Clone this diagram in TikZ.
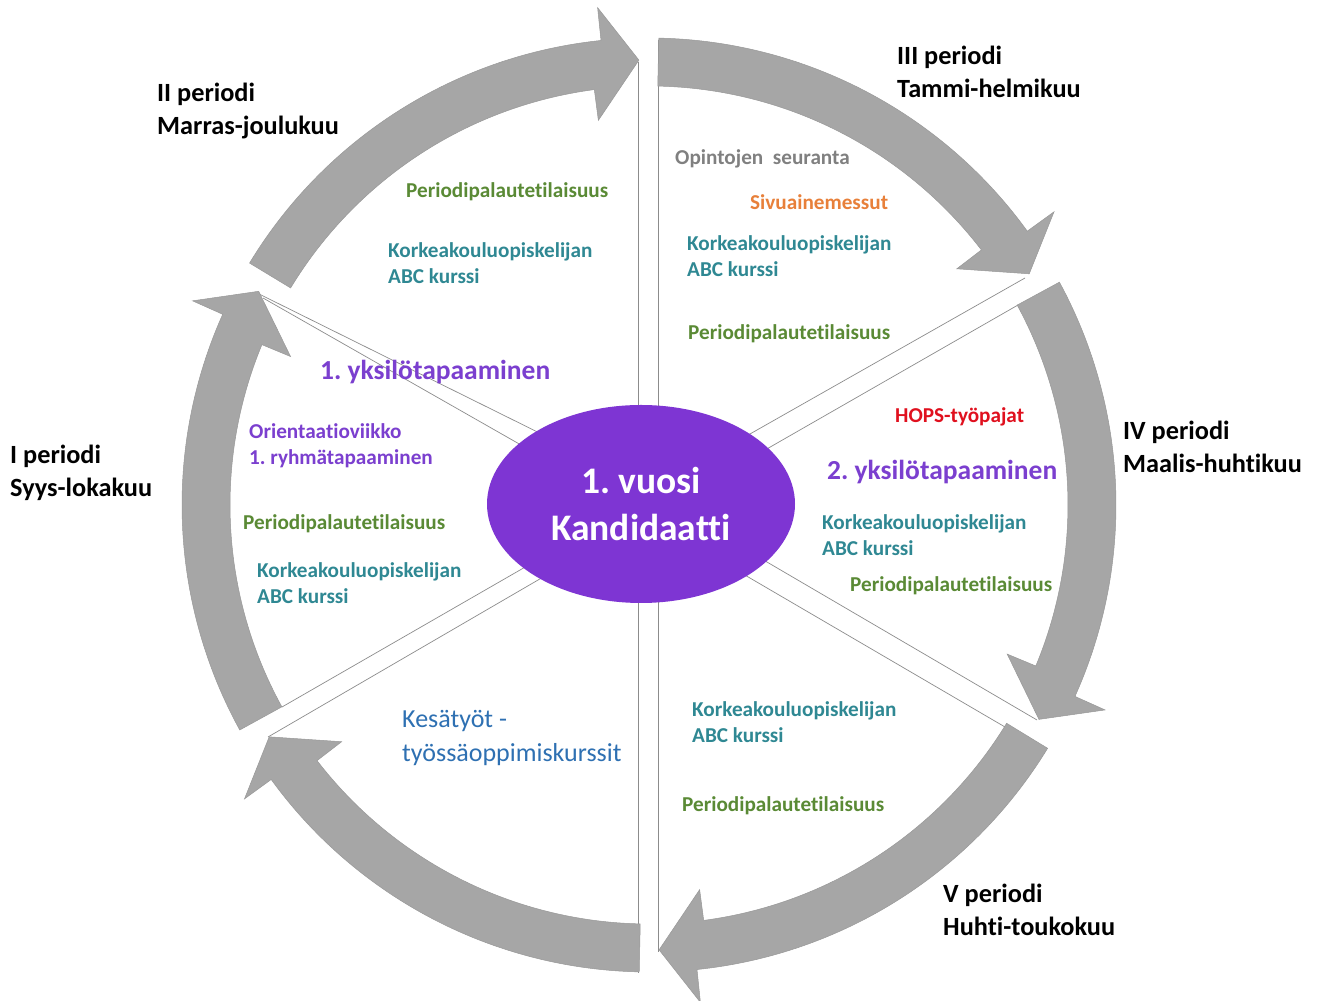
\documentclass[tikz,border=0pt]{standalone}
\usepackage{fontspec}
\setmainfont[Ligatures={NoCommon,NoContextual}]{Carlito}
\usetikzlibrary{shapes.geometric}
\definecolor{arrowgray}{HTML}{A6A6A6}
\definecolor{arrowedge}{HTML}{989898}
\definecolor{sepgray}{HTML}{8C8C8C}
\definecolor{ellpurple}{HTML}{7E35D3}
\definecolor{txtpurple}{HTML}{7B3FCF}
\definecolor{txtgreen}{HTML}{5A8A35}
\definecolor{txtteal}{HTML}{2F8893}
\definecolor{txtorange}{HTML}{E8803A}
\definecolor{txtred}{HTML}{E0101E}
\definecolor{txtgrey}{HTML}{808080}
\definecolor{txtblue}{HTML}{2E70B2}
\newcommand\mylines[1]{\begin{tabular}[t]{@{}l@{}}#1\end{tabular}}
\frenchspacing
\begin{document}
\begin{tikzpicture}[x=1pt,y=1pt,
  periodlbl/.style={anchor=base west, inner sep=0pt, font=\fontsize{26.3}{33}\selectfont\bfseries},
  item/.style={anchor=base west, inner sep=0pt, font=\fontsize{21.2}{26}\selectfont\bfseries},
  green/.style={item, text=txtgreen},
  teal/.style={item, text=txtteal},
  meet/.style={anchor=base west, inner sep=0pt, font=\fontsize{27.5}{30}\selectfont\bfseries, text=txtpurple},
  sepline/.style={draw=sepgray, line width=0.7pt},
  ringarrow/.style={fill=arrowgray, draw=arrowedge, line width=0.5pt, line join=miter}]
\useasboundingbox (0,0) rectangle (1320,1001);
\fill[white] (0,0) rectangle (1320,1001);

% separator wedges (pairs of thin lines)
\coordinate (ulA) at (255,709); \coordinate (ulAi) at (600,538);
\coordinate (ulB) at (263,703); \coordinate (ulBi) at (600,511);
\coordinate (vL1) at (638,939); \coordinate (vL2) at (638,28);
\coordinate (vR1) at (658,961); \coordinate (vR2) at (658,49);
\coordinate (urA) at (1025,723); \coordinate (urAi) at (690,533);
\coordinate (urB) at (1018,696); \coordinate (urBi) at (690,508);
\coordinate (lrA) at (1037,281); \coordinate (lrAi) at (690,484);
\coordinate (lrB) at (1005,274); \coordinate (lrBi) at (690,458);
\coordinate (llA) at (282,294); \coordinate (llAi) at (600,477);
\coordinate (llB) at (268,264); \coordinate (llBi) at (600,457);
\foreach \a/\b in {ulA/ulAi, ulB/ulBi, vL1/vL2, vR1/vR2, urA/urAi, urB/urBi, lrA/lrAi, lrB/lrBi, llA/llAi, llB/llBi}
  \draw[sepline] (\a) -- (\b);

% ring of six curved arrows
\begin{scope}[shift={(649,496)}]
\foreach \T/\P in {208.8/151.3, 148.8/91.3, 88.8/31.3, 28.5/-28.8, -31.4/-88.7, -91.2/-148.6}{
  \path[ringarrow] (\T:467) arc[start angle=\T, end angle={\P+4.6}, radius=467]
    -- ({\P+4.6}:500) -- (\P:445) -- ({\P+6.2}:388) -- ({\P+6.2}:419)
    arc[start angle={\P+6.2}, end angle=\T, radius=419] -- cycle;
}
\end{scope}

% centre
\node[ellipse, fill=ellpurple, minimum width=308pt, minimum height=198pt, inner sep=0pt,
      text=white, align=center, font=\fontsize{37.5}{47}\selectfont\bfseries] (core) at (641,497)
      {1. vuosi\\Kandidaatti};

% period labels
\node[periodlbl] (lblI)   at (10,537)   {\mylines{I periodi\\Syys-lokakuu}};
\node[periodlbl] (lblII)  at (157,899)  {\mylines{II periodi\\Marras-joulukuu}};
\node[periodlbl] (lblIII) at (897,936)  {\mylines{III periodi\\Tammi-helmikuu}};
\node[periodlbl] (lblIV)  at (1123,561) {\mylines{IV periodi\\Maalis-huhtikuu}};
\node[periodlbl] (lblV)   at (943,98)   {\mylines{V periodi\\Huhti-toukokuu}};

% sector II
\node[green] (fbII) at (406,803) {Periodipalautetilaisuus};
\node[teal]  (abcII) at (388,743) {\mylines{Korkeakouluopiskelijan\\ABC kurssi}};
% sector III
\node[item, text=txtgrey] (seur) at (675,836) {Opintojen\ \ seuranta};
\node[item, text=txtorange] (sivu) at (750,791) {Sivuainemessut};
\node[teal]  (abcIII) at (687,750) {\mylines{Korkeakouluopiskelijan\\ABC kurssi}};
\node[green] (fbIII) at (688,661) {Periodipalautetilaisuus};
% sector IV
\node[item, text=txtred] (hops) at (895,578) {HOPS-työpajat};
\node[meet] (meet2) at (827,521) {2. yksilötapaaminen};
\node[teal]  (abcIV) at (822,471) {\mylines{Korkeakouluopiskelijan\\ABC kurssi}};
\node[green] (fbIV) at (850,409) {Periodipalautetilaisuus};
% sector V
\node[teal]  (abcV) at (692,284) {\mylines{Korkeakouluopiskelijan\\ABC kurssi}};
\node[green] (fbV) at (682,189) {Periodipalautetilaisuus};
% summer sector
\node[anchor=base west, inner sep=0pt, font=\fontsize{26}{34}\selectfont, text=txtblue] (kesa) at (402,273)
  {\mylines{Kesätyöt -\\työssäoppimiskurssit}};
% sector I
\node[meet] (meet1) at (320,621) {1. yksilötapaaminen};
\node[item, text=txtpurple] (orient) at (249,562) {\mylines{Orientaatioviikko\\1. ryhmätapaaminen}};
\node[green] (fbI) at (243,471) {Periodipalautetilaisuus};
\node[teal]  (abcI) at (257,423) {\mylines{Korkeakouluopiskelijan\\ABC kurssi}};
\end{tikzpicture}
\end{document}
